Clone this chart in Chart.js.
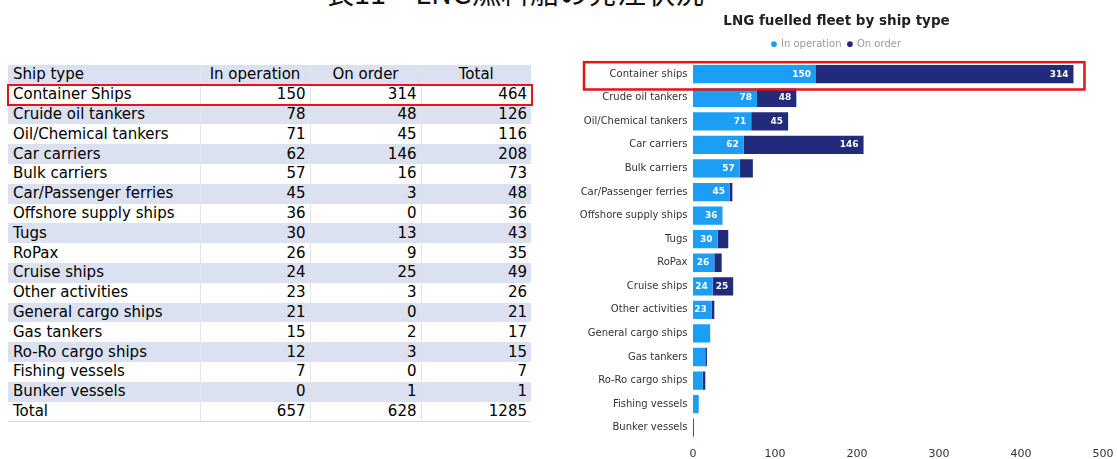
<!DOCTYPE html>
<html lang="ja">
<head>
<meta charset="utf-8">
<title>LNG fuelled fleet</title>
<script src="https://cdn.jsdelivr.net/npm/chart.js@4.4.1/dist/chart.umd.min.js"></script>
<style>
  html, body { margin: 0; padding: 0; background: #fff; }
  body { position: relative; width: 1117px; height: 459px; overflow: hidden; }
  #page-title { position: absolute; left: 325px; top: -23px; font: 29px/29px "Noto Sans CJK JP", sans-serif; color: #111; white-space: pre; }
  #fleet-table { position: absolute; left: 8px; top: 65px; width: 523px; table-layout: fixed; border-collapse: collapse; font-family: "DejaVu Sans", sans-serif; font-size: 15px; color: #000; }
  #fleet-table tr { height: 19.8px; }
  #fleet-table td { padding: 0 4px; line-height: 19px; white-space: nowrap; overflow: hidden; border-left: 1px solid #e2e4ea; }
  #fleet-table td:first-child { padding-left: 5px; border-left: none; }
  #fleet-table td.num { text-align: right; }
  #fleet-table tr.head td.num { text-align: center; }
  #fleet-table tr.shade td { background: #dbe1f0; }
  #fleet-table tr:last-child td { border-bottom: 1px solid #d5d8df; }
  #table-mark { position: absolute; box-sizing: border-box; border: 2.5px solid #e3141b; }
  #chart-box { position: absolute; left: 570px; top: 0; width: 547px; height: 459px; }
  #chart-box canvas { display: block; }
</style>
</head>
<body>
<div id="page-title">表11　LNG燃料船の発注状況</div>
<table id="fleet-table">
  <colgroup><col style="width:192px"><col style="width:110px"><col style="width:111px"><col style="width:110px"></colgroup>
  <tbody></tbody>
</table>
<div id="table-mark"></div>
<div id="chart-box"><canvas id="fleet-chart" width="547" height="459"></canvas></div>
<script>
// ship types as written in the table and on the chart axis
const tableShipTypes = [
  "Container Ships", "Cruide oil tankers", "Oil/Chemical tankers", "Car carriers",
  "Bulk carriers", "Car/Passenger ferries", "Offshore supply ships", "Tugs",
  "RoPax", "Cruise ships", "Other activities", "General cargo ships",
  "Gas tankers", "Ro-Ro cargo ships", "Fishing vessels", "Bunker vessels"
];
const chartShipTypes = [
  "Container ships", "Crude oil tankers", "Oil/Chemical tankers", "Car carriers",
  "Bulk carriers", "Car/Passenger ferries", "Offshore supply ships", "Tugs",
  "RoPax", "Cruise ships", "Other activities", "General cargo ships",
  "Gas tankers", "Ro-Ro cargo ships", "Fishing vessels", "Bunker vessels"
];
const inOperation = [150, 78, 71, 62, 57, 45, 36, 30, 26, 24, 23, 21, 15, 12, 7, 0];
const onOrder = [314, 48, 45, 146, 16, 3, 0, 13, 9, 25, 3, 0, 2, 3, 0, 1];
const rowTotals = [464, 126, 116, 208, 73, 48, 36, 43, 35, 49, 26, 21, 17, 15, 7, 1];
const columnTotals = [657, 628, 1285];
const tableHeader = ["Ship type", "In operation", "On order", "Total"];
const xTicks = [0, 100, 200, 300, 400, 500];

const LIGHT_BLUE = "#1c9ef4";
const NAVY = "#212a7b";
const RED = "#e3141b";

// ---- table ----
const tbody = document.querySelector("#fleet-table tbody");

const addRow = (cells, cls) => {
  const tr = document.createElement("tr");
  if (cls) tr.className = cls;
  cells.forEach((c, j) => {
    const td = document.createElement("td");
    td.textContent = c;
    if (j > 0) td.className = "num";
    tr.appendChild(td);
  });
  tbody.appendChild(tr);
  return tr;
};

addRow(tableHeader, "head shade");
const bodyRows = tableShipTypes.map((name, i) =>
  addRow([name, inOperation[i], onOrder[i], rowTotals[i]], i % 2 ? "shade" : "")
);
addRow(["Total", ...columnTotals], "");

// red frame round the container ships row
const markRect = bodyRows[0].getBoundingClientRect();
const tableMark = document.querySelector("#table-mark");
tableMark.style.left = (markRect.left - 1) + "px";
tableMark.style.top = (markRect.top - 1) + "px";
tableMark.style.width = (markRect.width + 3) + "px";
tableMark.style.height = (markRect.height + 2) + "px";

// ---- chart ----
Chart.defaults.font.family = '"DejaVu Sans", sans-serif';

// value inside each segment, only where it fits
const segmentLabels = {
  id: "segmentLabels",
  afterDatasetsDraw(chart) {
    const {ctx} = chart;
    ctx.save();
    ctx.font = 'bold 9px "DejaVu Sans"';
    ctx.fillStyle = "#fff";
    ctx.textAlign = "right";
    ctx.textBaseline = "middle";
    chart.data.datasets.forEach((ds, di) => {
      chart.getDatasetMeta(di).data.forEach((bar, i) => {
        const text = String(ds.data[i]);
        const w = bar.x - bar.base;
        if (w < ctx.measureText(text).width + 5) return;
        ctx.fillText(text, bar.x - 5, bar.y);
      });
    });
    ctx.restore();
  }
};

// red frame round the first category
const highlightRow = {
  id: "highlightRow",
  afterDraw(chart) {
    const {ctx, chartArea, scales} = chart;
    const yMid = scales.y.getPixelForValue(0);
    const xEnd = scales.x.getPixelForValue(rowTotals[0]);
    const left = chartArea.left - 109;
    ctx.save();
    ctx.strokeStyle = RED;
    ctx.lineWidth = 2.5;
    ctx.strokeRect(left, yMid - 12, xEnd + 11 - left, 27.3);
    ctx.restore();
  }
};

new Chart(document.querySelector("#fleet-chart"), {
  type: "bar",
  data: {
    labels: chartShipTypes,
    datasets: [
      {label: "In operation", data: inOperation, backgroundColor: LIGHT_BLUE, xAxisID: "x"},
      {label: "On order", data: onOrder, backgroundColor: NAVY, xAxisID: "x"}
    ]
  },
  options: {
    indexAxis: "y",
    responsive: false,
    animation: false,
    layout: {padding: {left: 0, right: 14, top: 0, bottom: 0}},
    datasets: {bar: {barPercentage: 0.776, categoryPercentage: 1, borderWidth: 0}},
    scales: {
      x: {
        stacked: true,
        min: xTicks[0],
        max: xTicks[xTicks.length - 1],
        ticks: {stepSize: xTicks[1] - xTicks[0], padding: 9, color: "#333", font: {size: 11, lineHeight: 1}},
        grid: {display: false, drawTicks: false},
        border: {display: false},
        afterFit(scale) {
          scale.height = 19.5;
          scale.paddingLeft = 0;
          scale.paddingRight = 0;
        }
      },
      y: {
        stacked: true,
        ticks: {padding: 5.5, color: "#333", font: {size: 10}, autoSkip: false},
        grid: {display: false, drawTicks: false},
        border: {display: false},
        afterFit(scale) {
          scale.width = 123;
          scale.paddingTop = 0;
          scale.paddingBottom = 0;
        }
      },
      // keeps a small gap between legend and bars
      gap: {
        axis: "x",
        type: "linear",
        position: "top",
        ticks: {display: false},
        grid: {display: false, drawTicks: false},
        border: {display: false},
        afterFit(scale) { scale.height = 3.2; }
      }
    },
    plugins: {
      title: {
        display: true,
        text: "LNG fuelled fleet by ship type",
        color: "#222",
        font: {size: 13.5, weight: "bold"},
        padding: {top: 13.6, bottom: 2.9}
      },
      legend: {
        labels: {
          usePointStyle: true,
          pointStyle: "circle",
          boxWidth: 4,
          boxHeight: 4,
          padding: 6.5,
          color: "#9b9b9b",
          font: {size: 10}
        }
      },
      tooltip: {enabled: false}
    }
  },
  plugins: [segmentLabels, highlightRow]
});
</script>
</body>
</html>
